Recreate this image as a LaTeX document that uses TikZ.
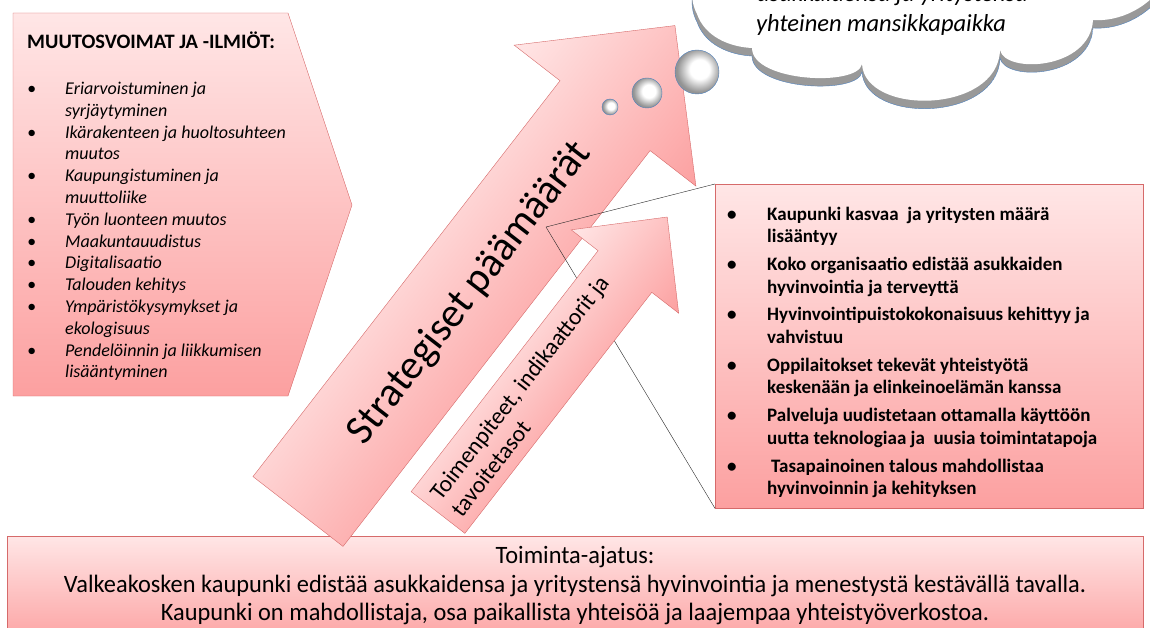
\documentclass[tikz,border=0pt]{standalone}
\usepackage{fontspec}
\setmainfont{Carlito}
\newfontfamily\narrowfont[FakeStretch=0.975]{Carlito}
\usepackage{tikz}
\usetikzlibrary{calc}
\definecolor{pinkLight}{RGB}{255,230,230}
\definecolor{pinkDark}{RGB}{252,160,160}
\definecolor{pinkEdge}{RGB}{214,106,106}
\definecolor{bubbleBlue}{RGB}{79,129,189}
\pgfdeclareradialshading{bubbleShade}{\pgfpoint{4bp}{4bp}}{color(0bp)=(white); color(11bp)=(white); color(20bp)=(gray!55); color(25bp)=(gray!85); color(50bp)=(gray!85)}
\tikzset{strategyFig/.style={x=1pt,y=-1pt,line join=miter},
                    pinkBox/.style={draw=pinkEdge,top color=pinkLight,bottom color=pinkDark},
                    pinkArrow/.style={draw=pinkEdge,top color=pinkLight,bottom color=pinkDark},
                    bubble/.style={draw=bubbleBlue,shading=bubbleShade},
                    trendText/.style={anchor=north west,align=left,inner sep=0pt,font=\fontsize{18}{21.8}\selectfont\itshape},
                    goalText/.style={anchor=north west,align=left,inner sep=0pt,font=\fontsize{19}{22.7}\selectfont\bfseries},
                    missionText/.style={anchor=base,inner sep=0pt,font=\fontsize{25}{28}\selectfont\narrowfont},
                    visionText/.style={anchor=base west,inner sep=0pt,font=\fontsize{24.5}{30}\selectfont\itshape}}
\def\cloudPath{(712,-40) .. controls (690,-20) and (688,5) .. (697,22)
	.. controls (705,45) and (730,55) .. (752,56)
	.. controls (752,90) and (858,95) .. (862,72)
	.. controls (865,124) and (998,122) .. (1000,58)
	.. controls (1005,82) and (1090,78) .. (1093,28)
	.. controls (1120,30) and (1150,15) .. (1165,-10)
	-- (1165,-40) -- cycle}
\begin{document}
\begin{tikzpicture}[strategyFig]
			\useasboundingbox (0,0) rectangle (1150,628);
			\clip (0,0) rectangle (1150,628);
			%MISSION
			\node [pinkBox, anchor=north west, inner sep=0pt, minimum width=1136, minimum height=110] (missionBox) at (7,536) {};
			\node [missionText] (missionHead) at (575,563) {Toiminta-ajatus:};
			\node [missionText] (missionOne) at (575,592) {Valkeakosken kaupunki edistää asukkaidensa ja yritystensä hyvinvointia ja menestystä kestävällä tavalla.};
			\node [missionText] (missionTwo) at (575,620) {Kaupunki on mahdollistaja, osa paikallista yhteisöä ja laajempaa yhteistyöverkostoa.};
			
			%TRENDS
			\path [pinkBox] (13,13) -- (288,13) -- (352,205) -- (288,396) -- (13,396) -- cycle;
			\node [anchor=base west, inner sep=0pt, font=\fontsize{20.5}{24}\selectfont\bfseries] (trendHead) at (27,49) {MUUTOSVOIMAT JA -ILMIÖT:};
			\node [trendText] (trends) at (27,82) {%
				\makebox[38pt][l]{\textbullet}Eriarvoistuminen ja\\
				\hspace*{38pt}syrjäytyminen\\
				\makebox[38pt][l]{\textbullet}Ikärakenteen ja huoltosuhteen\\
				\hspace*{38pt}muutos\\
				\makebox[38pt][l]{\textbullet}Kaupungistuminen ja\\
				\hspace*{38pt}muuttoliike\\
				\makebox[38pt][l]{\textbullet}Työn luonteen muutos\\
				\makebox[38pt][l]{\textbullet}Maakuntauudistus\\
				\makebox[38pt][l]{\textbullet}Digitalisaatio\\
				\makebox[38pt][l]{\textbullet}Talouden kehitys\\
				\makebox[38pt][l]{\textbullet}Ympäristökysymykset ja\\
				\hspace*{38pt}ekologisuus\\
				\makebox[38pt][l]{\textbullet}Pendelöinnin ja liikkumisen\\
				\hspace*{38pt}lisääntyminen};
			
			%STRATEGIC GOALS
			\begin{scope}[transform canvas={shift={(298pt,-511.5pt)},rotate=52.2},x=1pt,y=1pt]
				\path [pinkArrow] (0,-57) -- (501,-57) -- (501,-115) -- (615,0) -- (501,115) -- (501,57) -- (0,57) -- cycle;
				\node [inner sep=0pt, font=\fontsize{41.5}{44}\selectfont] (goalTitle) at (278,-2) {Strategiset päämäärät};
			\end{scope}
			\coordinate (callout) at (546,227);
			
			\node [pinkBox, anchor=north west, inner sep=0pt, minimum width=428, minimum height=324] (goals) at (715,184) {};
			\node [goalText] (goalList) at (727,206.5) {%
				\makebox[40pt][l]{\textbullet}Kaupunki kasvaa\ \ ja yritysten määrä\\
				\hspace*{40pt}lisääntyy\\[5pt]
				\makebox[40pt][l]{\textbullet}Koko organisaatio edistää asukkaiden\\
				\hspace*{40pt}hyvinvointia ja terveyttä\\[5pt]
				\makebox[40pt][l]{\textbullet}Hyvinvointipuistokokonaisuus kehittyy ja\\
				\hspace*{40pt}vahvistuu\\[5pt]
				\makebox[40pt][l]{\textbullet}Oppilaitokset tekevät yhteistyötä\\
				\hspace*{40pt}keskenään ja elinkeinoelämän kanssa\\[5pt]
				\makebox[40pt][l]{\textbullet}Palveluja uudistetaan ottamalla käyttöön\\
				\hspace*{40pt}uutta teknologiaa ja\ \ uusia toimintatapoja\\[5pt]
				\makebox[40pt][l]{\textbullet}\hspace{4pt}Tasapainoinen talous mahdollistaa\\
				\hspace*{40pt}hyvinvoinnin ja kehityksen};
			
			\draw [black!85] (callout) -- (goals.north west);
			\draw [black!85] (callout) -- (goals.south west);
			
			%MEASURES
			\begin{scope}[transform canvas={shift={(438pt,-512.5pt)},rotate=52.2},x=1pt,y=1pt]
				\path [pinkArrow] (0,-34) -- (305,-34) -- (305,-68) -- (374,0) -- (305,68) -- (305,34) -- (0,34) -- cycle;
				\node [anchor=west, align=left, inner sep=0pt, font=\fontsize{23.5}{27}\selectfont] (measures) at (10,-1) {Toimenpiteet, indikaattorit ja\\tavoitetasot};
			\end{scope}
			
			%VISION CLOUD
			\shade [bubble] (610,107) circle (8);
			\shade [bubble] (647,93) circle (15);
			\shade [bubble] (697,72) circle (22);
			\begin{scope}
				\clip \cloudPath;
				\fill [gray!80] \cloudPath;
				\fill [white, yshift=8pt] \cloudPath;
			\end{scope}
			\draw [bubbleBlue] \cloudPath;
			\node [visionText] (visionOne) at (757,2) {asukkaidensa ja yritystensä};
			\node [visionText] (visionTwo) at (756,32) {yhteinen mansikkapaikka};
		\end{tikzpicture}
\end{document}
